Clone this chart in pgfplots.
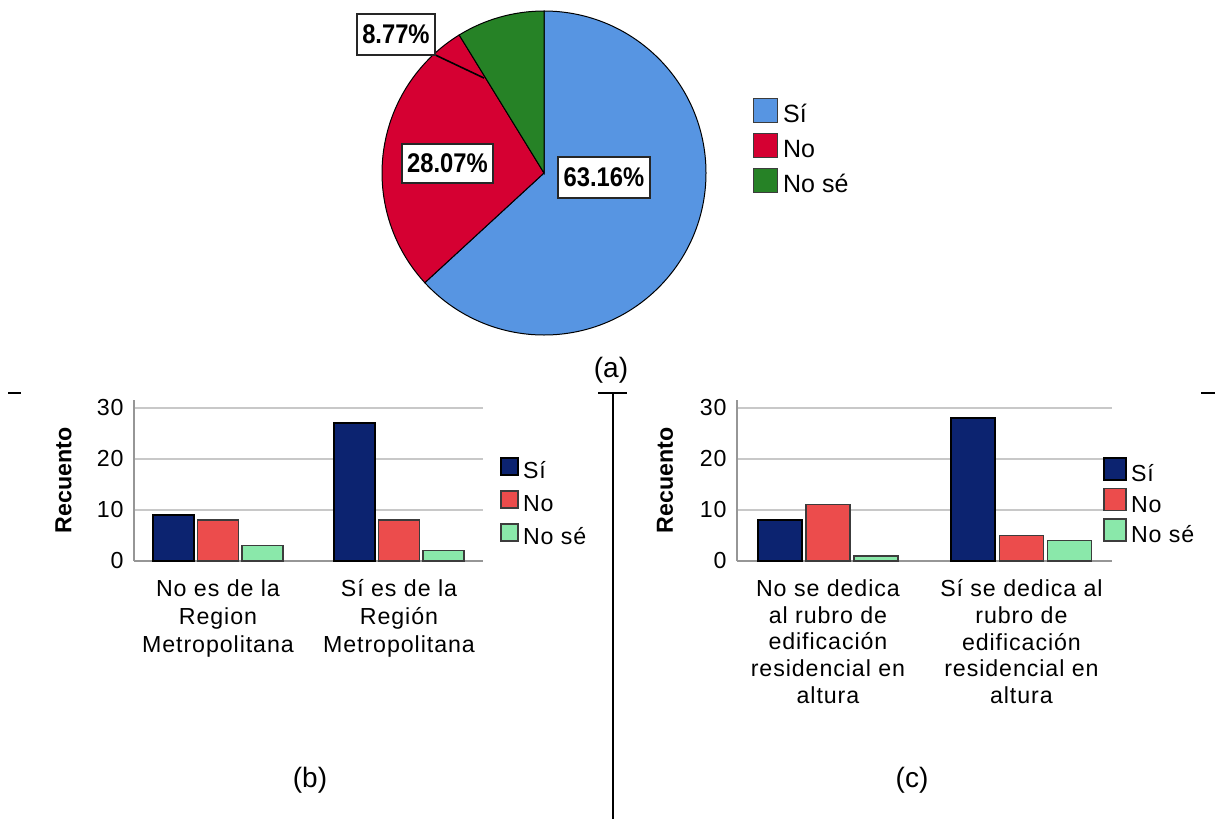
\documentclass[border=0pt]{standalone}
\usepackage{fontspec}
\setmainfont{Liberation Sans}
\newfontfamily\spfont[LetterSpace=4]{Liberation Sans}
\usepackage{graphicx}
\usepackage{pgfplots}
\pgfplotsset{compat=1.18}

\definecolor{piblue}{RGB}{87,149,226}
\definecolor{pired}{RGB}{213,0,50}
\definecolor{pigreen}{RGB}{38,130,38}
\definecolor{bnavy}{RGB}{12,35,112}
\definecolor{bred}{RGB}{236,76,76}
\definecolor{bgreen}{RGB}{138,232,170}
\definecolor{gridc}{RGB}{200,200,200}
\definecolor{axisc}{RGB}{150,150,150}
\definecolor{edgec}{RGB}{60,60,60}

\newcommand{\lf}{\spfont\fontsize{11.6}{14}\selectfont}
\newcommand{\pielab}[1]{\scalebox{0.88}[1]{\fontsize{13.5}{16}\selectfont\bfseries #1}}

\pgfplotsset{
  barchart/.style={
    scale only axis, height=80.5pt, ymin=0, ymax=31.5,
    ytick={0,10,20,30}, xtick={1,2},
    axis lines*=left,
    axis line style={draw=axisc, line width=1pt, -},
    major tick length=0pt,
    ymajorgrids, major grid style={draw=gridc, line width=1pt},
    /pgf/number format/assume math mode=true,
    yticklabel style={font=\lf, inner sep=0pt, xshift=-5pt},
    xticklabel style={font=\lf, align=center, inner sep=0pt, anchor=north, yshift=-9pt},
    legend cell align=left,
  },
  sqb/.style={legend image code/.code={\draw[##1] (0pt,-4.25pt) rectangle (8.5pt,4.25pt);}},
  sqc/.style={legend image code/.code={\draw[##1] (0pt,-5.5pt) rectangle (11pt,5.5pt);}},
}

% pie data (percent)
\def\vSi{63.16}
\def\vNo{28.07}
\def\vNs{8.77}

\begin{document}
\begin{tikzpicture}
\useasboundingbox (0pt,0pt) rectangle (607.5pt,-409.5pt);

\pgfmathsetmacro\aA{90-3.6*\vSi}
\pgfmathsetmacro\aB{\aA-3.6*\vNo}
\pgfmathsetmacro\aC{\aB-3.6*\vNs}

% ---------------- (a) pie ----------------
\begin{axis}[at={(272pt,-86.5pt)}, anchor=center, scale only axis,
  width=162pt, height=162pt, xmin=-1, xmax=1, ymin=-1, ymax=1,
  hide axis, clip=false,
  legend style={at={(1.145,0.731)}, anchor=north west, draw=none, fill=none,
    inner sep=0pt, outer sep=0pt, row sep=4.75pt, column sep=2.5pt,
    font=\fontsize{12.5}{15}\selectfont,
    nodes={inner sep=0pt, text height=12pt, text depth=0pt}},
  legend cell align=left,
  legend image code/.code={\draw[#1] (0pt,-6pt) rectangle (12pt,6pt);}]
\addlegendimage{fill=piblue, draw=edgec, line width=0.6pt}
\addlegendentry{Sí}
\addlegendimage{fill=pired, draw=edgec, line width=0.6pt}
\addlegendentry{No}
\addlegendimage{fill=pigreen, draw=edgec, line width=0.6pt}
\addlegendentry{No sé}
\filldraw[fill=piblue, draw=black, line width=0.5pt] (axis cs:0,0) -- ++(90:81pt) arc[start angle=90, end angle=\aA, radius=81pt] -- cycle;
\filldraw[fill=pired, draw=black, line width=0.5pt] (axis cs:0,0) -- ++(\aA:81pt) arc[start angle=\aA, end angle=\aB, radius=81pt] -- cycle;
\filldraw[fill=pigreen, draw=black, line width=0.5pt] (axis cs:0,0) -- ++(\aB:81pt) arc[start angle=\aB, end angle=\aC, radius=81pt] -- cycle;
\draw[black, line width=0.8pt] (axis cs:-0.670,0.728) -- (axis cs:-0.370,0.586);
\node[draw=black!85, line width=1pt, fill=white, inner xsep=2.75pt, inner ysep=0pt, minimum height=20.5pt] at (axis cs:-0.914,0.858) {\pielab{8.77\%}};
\node[draw=black!85, line width=1pt, fill=white, inner xsep=2.75pt, inner ysep=0pt, minimum height=19.5pt] at (axis cs:-0.596,0.059) {\pielab{28.07\%}};
\node[draw=black!85, line width=1pt, fill=white, inner xsep=2.75pt, inner ysep=0pt, minimum height=20.5pt] at (axis cs:0.370,-0.028) {\pielab{63.16\%}};
\end{axis}

% ---------------- (b) ----------------
\begin{axis}[barchart, at={(67pt,-280.5pt)}, anchor=south west,
  width=174.5pt, xmin=0.536, xmax=2.464,
  xticklabels={{No es de la\\Region\\Metropolitana},{Sí es de la\\Región\\Metropolitana}},
  every axis y label/.style={at={(axis description cs:-0.202,0.5)}, rotate=90, anchor=center, font=\fontsize{11.6}{14}\selectfont\bfseries},
  ylabel={Recuento},
  legend style={at={(1.0487,0.658)}, anchor=north west, draw=none, fill=none,
    inner sep=0pt, outer sep=0pt, row sep=5pt, column sep=2pt, font=\lf,
    nodes={inner sep=0pt, text height=11.5pt, text depth=0pt}}]
\addplot[ybar, bar width=20.5pt, bar shift=-22.25pt, fill=bnavy, draw=black, line width=1pt, sqb] coordinates {(1,9) (2,27)};
\addlegendentry{Sí}
\addplot[ybar, bar width=20.5pt, bar shift=0pt, fill=bred, draw=edgec, line width=0.7pt, sqb] coordinates {(1,8) (2,8)};
\addlegendentry{No}
\addplot[ybar, bar width=20.5pt, bar shift=22.25pt, fill=bgreen, draw=edgec, line width=0.7pt, sqb] coordinates {(1,3) (2,2)};
\addlegendentry{No sé}
\end{axis}

% ---------------- (c) ----------------
\begin{axis}[barchart, at={(368.5pt,-280.5pt)}, anchor=south west,
  width=187.5pt, xmin=0.530, xmax=2.468,
  xticklabel style={font=\spfont\fontsize{11.6}{13.4}\selectfont},
  xticklabels={{No se dedica\\al rubro de\\edificación\\residencial en\\altura},{Sí se dedica al\\rubro de\\edificación\\residencial en\\altura}},
  every axis y label/.style={at={(axis description cs:-0.192,0.5)}, rotate=90, anchor=center, font=\fontsize{11.6}{14}\selectfont\bfseries},
  ylabel={Recuento},
  legend style={at={(0.976,0.649)}, anchor=north west, draw=none, fill=none,
    inner sep=0pt, outer sep=0pt, row sep=2.75pt, column sep=2pt, font=\lf,
    nodes={inner sep=0pt, text height=12.5pt, text depth=0pt}}]
\addplot[ybar, bar width=22pt, bar shift=-24pt, fill=bnavy, draw=black, line width=1pt, sqc] coordinates {(1,8) (2,28)};
\addlegendentry{Sí}
\addplot[ybar, bar width=22pt, bar shift=0pt, fill=bred, draw=edgec, line width=0.7pt, sqc] coordinates {(1,11) (2,5)};
\addlegendentry{No}
\addplot[ybar, bar width=22pt, bar shift=24pt, fill=bgreen, draw=edgec, line width=0.7pt, sqc] coordinates {(1,1) (2,4)};
\addlegendentry{No sé}
\end{axis}

% ---------------- panel labels and separators ----------------
\node[font=\fontsize{14}{16}\selectfont] at (305.5pt,-185pt) {(a)};
\node[font=\fontsize{14}{16}\selectfont] at (155pt,-390pt) {(b)};
\node[font=\fontsize{14}{16}\selectfont] at (456pt,-390pt) {(c)};
\draw[line width=0.75pt] (4pt,-196.5pt) -- (10.5pt,-196.5pt);
\draw[line width=0.75pt] (299pt,-196.5pt) -- (313.5pt,-196.5pt);
\draw[line width=0.75pt] (306.5pt,-196.5pt) -- (306.5pt,-409.5pt);
\draw[line width=0.75pt] (600.5pt,-196.5pt) -- (607.5pt,-196.5pt);
\end{tikzpicture}
\end{document}
